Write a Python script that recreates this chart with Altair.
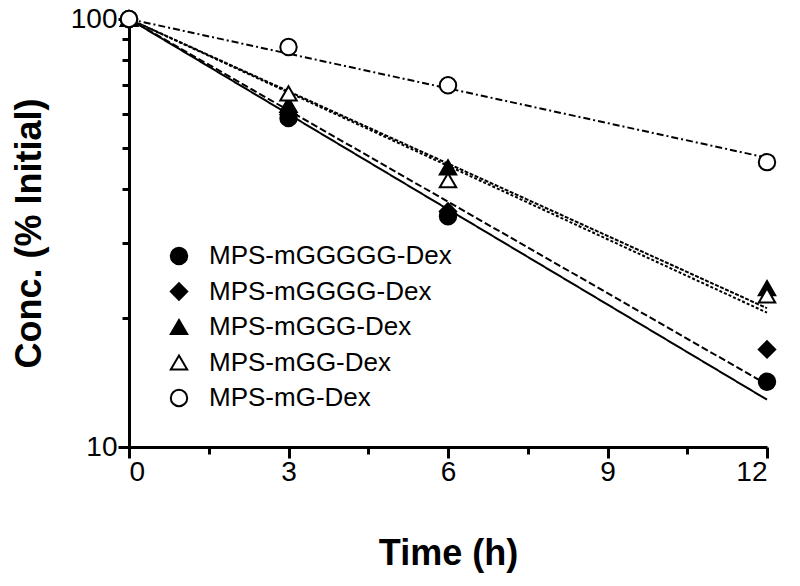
import altair as alt
import pandas as pd

series = ["MPS-mGGGGG-Dex", "MPS-mGGGG-Dex", "MPS-mGGG-Dex", "MPS-mGG-Dex", "MPS-mG-Dex"]
times = [0, 3, 6, 12]
conc_mGGGGG = [100, 58.7, 34.6, 14.2]
conc_mGGGG = [100, 59.8, 35.5, 16.9]
conc_mGGG = [100, 63, 45, 23.5]
conc_mGG = [100, 67, 42, 22.6]
conc_mG = [100, 86, 70, 46.3]

fit_times = [0, 12]
fit_mGGGGG = [100, 12.9]
fit_mGGGG = [100, 14.0]
fit_mGGG = [100, 21.1]
fit_mGG = [100, 20.6]
fit_mG = [100, 47.4]

x_ticks = [0, 0.75, 1.5, 2.25, 3, 3.75, 4.5, 5.25, 6, 6.75, 7.5, 8.25, 9, 9.75, 10.5, 11.25, 12]
y_ticks = [10, 20, 30, 40, 50, 60, 70, 80, 90, 100]

conc_all = [conc_mGGGGG, conc_mGGGG, conc_mGGG, conc_mGG, conc_mG]
fit_all = [fit_mGGGGG, fit_mGGGG, fit_mGGG, fit_mGG, fit_mG]

pts = pd.DataFrame(
    [{"series": s, "t": t, "c": c} for s, vals in zip(series, conc_all) for t, c in zip(times, vals)]
)
fits = pd.DataFrame(
    [{"fit": s, "t": t, "c": c} for s, vals in zip(series, fit_all) for t, c in zip(fit_times, vals)]
)

FONT = "Liberation Sans"

x_enc = alt.X(
    "t:Q",
    scale=alt.Scale(domain=[0, 12], nice=False, zero=False),
    axis=alt.Axis(
        values=x_ticks,
        labelExpr="datum.value % 3 == 0 ? datum.label : ''",
        tickSize={"condition": {"test": "datum.value % 3 == 0", "value": 11}, "value": 7},
        title="Time (h)",
        titlePadding=50,
        labelPadding=0,
        grid=False,
    ),
)
y_enc = alt.Y(
    "c:Q",
    scale=alt.Scale(type="log", domain=[10, 100], nice=False),
    axis=alt.Axis(
        values=y_ticks,
        format="d",
        labelExpr="(datum.value == 10 || datum.value == 100) ? datum.label : ''",
        tickSize={"condition": {"test": "datum.value == 10 || datum.value == 100", "value": 11}, "value": 7},
        title="Conc. (% Initial)",
        titlePadding=22,
        labelPadding=1,
        grid=False,
    ),
)

lines = alt.Chart(fits).mark_line(strokeWidth=2, color="black").encode(
    x=x_enc,
    y=y_enc,
    detail="fit:N",
    strokeDash=alt.StrokeDash(
        "fit:N",
        scale=alt.Scale(
            domain=series,
            range=[[1, 0], [7, 3], [4, 1.5], [3, 2], [7, 3, 2, 3]],
        ),
        legend=None,
    ),
)

leg = alt.Legend(
    title=None,
    orient="none",
    legendX=37,
    legendY=224,
    padding=0,
    labelFont=FONT,
    labelFontSize=26,
    labelColor="black",
    labelOffset=17,
    symbolSize=270,
    symbolStrokeWidth=2,
    rowPadding=9.5,
    labelLimit=400,
)

points = alt.Chart(pts).mark_point(filled=False, size=270, strokeWidth=2, opacity=1).encode(
    x=alt.X("t:Q"),
    y=alt.Y("c:Q"),
    shape=alt.Shape(
        "series:N",
        scale=alt.Scale(domain=series, range=["circle", "diamond", "triangle-up", "triangle-up", "circle"]),
        legend=leg,
    ),
    fill=alt.Fill(
        "series:N",
        scale=alt.Scale(domain=series, range=["black", "black", "black", "white", "white"]),
        legend=leg,
    ),
    stroke=alt.Stroke(
        "series:N",
        scale=alt.Scale(domain=series, range=["black", "black", "black", "black", "black"]),
        legend=leg,
    ),
)

chart = (
    alt.layer(lines, points)
    .resolve_scale(strokeDash="independent")
    .properties(
        width=638,
        height=428,
        autosize=alt.AutoSizeParams(type="none"),
        padding={"left": 121, "top": 11, "right": 25, "bottom": 131},
    )
    .configure_view(stroke=None)
    .configure_axis(
        domainColor="black",
        domainWidth=3,
        tickColor="black",
        tickWidth=3,
        labelFont=FONT,
        labelFontSize=28,
        labelColor="black",
        titleFont=FONT,
        titleFontSize=36,
        titleFontWeight="bold",
        titleColor="black",
    )
)

chart.save("out.html", embed_options={"renderer": "svg", "actions": False})
